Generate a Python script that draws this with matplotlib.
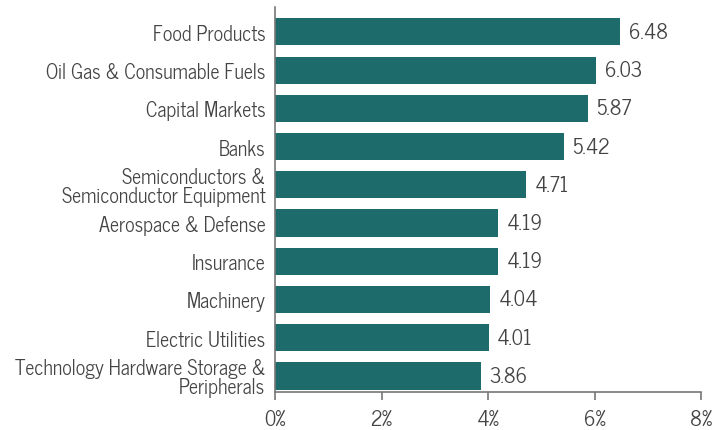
import matplotlib.pyplot as plt
from matplotlib import font_manager

#---Data
categories = ['Food Products', 'Oil Gas & Consumable Fuels', 'Capital Markets', 'Banks',
              'Semiconductors &\nSemiconductor Equipment', 'Aerospace & Defense', 'Insurance',
              'Machinery', 'Electric Utilities', 'Technology Hardware Storage &\nPeripherals']
values = [6.48, 6.03, 5.87, 5.42, 4.71, 4.19, 4.19, 4.04, 4.01, 3.86]
xticks = [0, 2, 4, 6, 8]

#---Pick a condensed gothic face if one is around
names = {f.name for f in font_manager.fontManager.ttflist}
fam = 'DejaVu Sans'
for c in ['News Cycle', 'Roboto Condensed', 'Archivo Narrow', 'PT Sans Narrow',
          'Liberation Sans Narrow', 'Open Sans Condensed', 'Encode Sans Condensed']:
    if c in names:
        fam = c
        break
plt.rcParams['font.family'] = [fam, 'DejaVu Sans']

bar_color = '#1d6b6a'
text_color = '#444444'

fig = plt.figure(figsize=(7.28, 4.31), dpi=100)
ax = fig.add_axes([275/728, 1-393/431, 426/728, 385/431])

n = len(categories)
ypos = [n-1-i for i in range(n)]
ax.barh(ypos, values, height=0.71, color=bar_color)
for y, v in zip(ypos, values):
    ax.text(v + 0.16, y, '%.2f' % v, va='center', ha='left', fontsize=14.5, color=text_color)

ax.set_xlim(0, 8)
ax.set_ylim(-0.42, n-1+0.65)
ax.set_xticks(xticks)
ax.set_xticklabels(['%d%%' % t for t in xticks])
ax.set_yticks(ypos)
ax.set_yticklabels(categories, linespacing=0.95)
ax.tick_params(axis='y', length=0, pad=7, labelsize=14.3, labelcolor=text_color)
ax.tick_params(axis='x', length=6, width=1.2, color='#777777', pad=6, labelsize=14.5, labelcolor=text_color)

for s in ['top', 'right']:
    ax.spines[s].set_visible(False)
for s in ['left', 'bottom']:
    ax.spines[s].set_color('#777777')
    ax.spines[s].set_linewidth(1.2)

plt.savefig('out.png', dpi=100)
